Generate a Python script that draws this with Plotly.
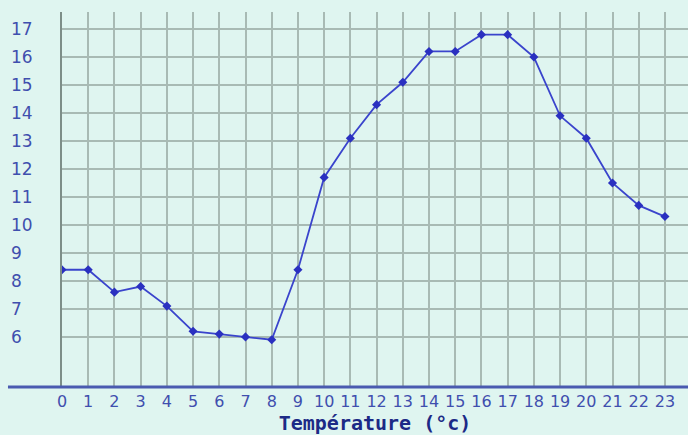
import plotly.graph_objects as go

hours = list(range(24))
temps = [8.4, 8.4, 7.6, 7.8, 7.1, 6.2, 6.1, 6.0, 5.9, 8.4, 11.7, 13.1,
         14.3, 15.1, 16.2, 16.2, 16.8, 16.8, 16.0, 13.9, 13.1, 11.5, 10.7, 10.3]
x_ticks = list(range(24))
x_tick_labels = [str(h) for h in x_ticks]
y_ticks = list(range(6, 18))
y_tick_labels = [str(v) if v >= 10 else str(v) + "\u00a0\u00a0" for v in y_ticks]
x_title = "Température (°c)"

BG = "#dff5f0"
GRID = "#a8bab4"
BLUE_TXT = "#3f4fae"

fig = go.Figure()
fig.add_trace(go.Scatter(
    x=hours, y=temps, mode="lines+markers",
    line=dict(color="#3a44cc", width=1.8),
    marker=dict(symbol="diamond", size=7, color="#2a30c0"),
    hoverinfo="skip", showlegend=False,
))

fig.update_layout(
    width=688, height=435,
    margin=dict(l=62, r=0, t=12, b=48),
    paper_bgcolor=BG, plot_bgcolor=BG,
    font=dict(family="DejaVu Sans", size=16, color=BLUE_TXT),
    xaxis=dict(
        range=[0, 23.88], tickmode="array", tickvals=x_ticks, ticktext=x_tick_labels,
        showgrid=True, gridcolor=GRID, gridwidth=1.5, zeroline=False,
        showline=False, ticks="", ticklabelstandoff=3,
        tickfont=dict(family="DejaVu Sans", size=16, color=BLUE_TXT),
        title=dict(text=x_title, standoff=4,
                   font=dict(family="DejaVu Sans Mono", size=20, color="#1c2a86", weight="bold")),
    ),
    yaxis=dict(
        range=[4.21, 17.61], tickmode="array", tickvals=y_ticks, ticktext=y_tick_labels,
        showgrid=True, gridcolor=GRID, gridwidth=1.5, zeroline=False,
        showline=True, linecolor="#7d8e88", linewidth=2, ticks="",
        ticklabelstandoff=24,
        tickfont=dict(family="DejaVu Sans", size=17, color=BLUE_TXT),
    ),
    shapes=[
        dict(type="line", xref="paper", yref="paper", x0=-0.0863, x1=1.0, y0=0, y1=0,
             line=dict(color="#4a5ab0", width=3), layer="above"),
    ],
)

fig.write_html(
    "out.html",
    config={"displayModeBar": False},
    post_script="document.body.style.margin='0';document.body.style.background='" + BG + "';",
)
